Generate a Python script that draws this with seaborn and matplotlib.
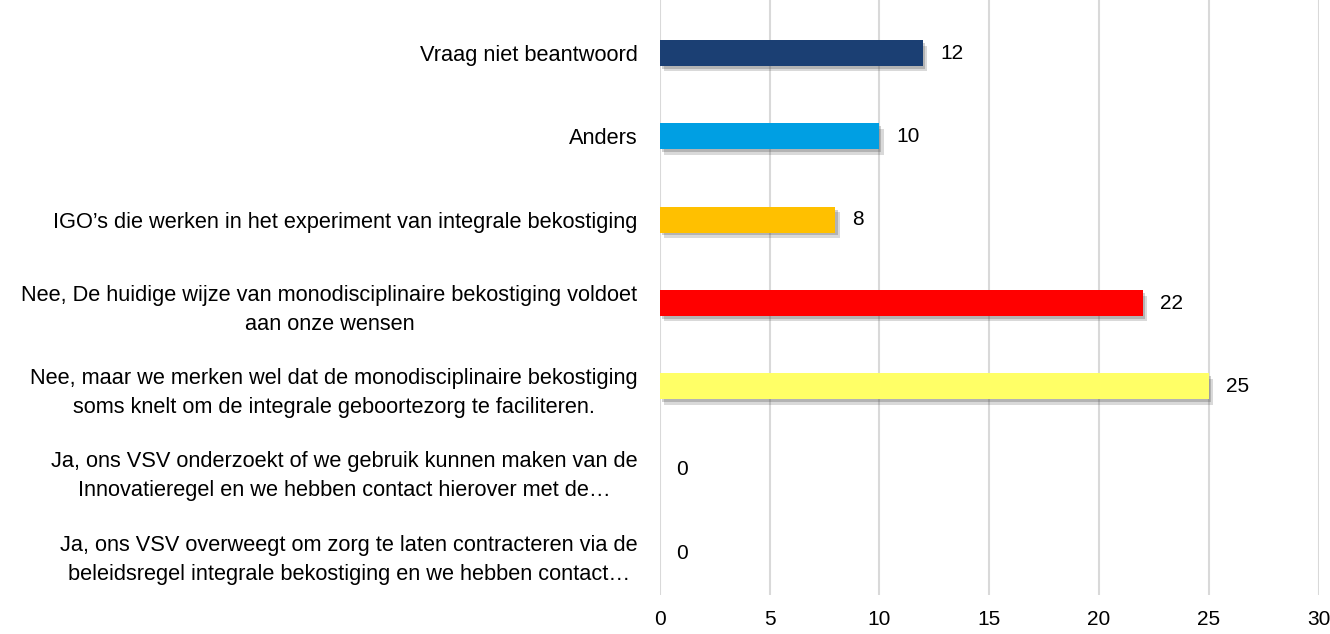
import numpy as np
import pandas as pd
import seaborn as sns
import matplotlib.pyplot as plt
import matplotlib.patheffects as pe

# answers, top to bottom as shown in the chart
categories = [
    "Vraag niet beantwoord",
    "Anders",
    "IGO\u2019s die werken in het experiment van integrale bekostiging",
    "Nee, De huidige wijze van monodisciplinaire bekostiging voldoet\naan onze wensen",
    "Nee, maar we merken wel dat de monodisciplinaire bekostiging\nsoms knelt om de integrale geboortezorg te faciliteren.",
    "Ja, ons VSV onderzoekt of we gebruik kunnen maken van de\nInnovatieregel en we hebben contact hierover met de\u2026",
    "Ja, ons VSV overweegt om zorg te laten contracteren via de\nbeleidsregel integrale bekostiging en we hebben contact\u2026",
]
counts = [12, 10, 8, 22, 25, 0, 0]
bar_colors = ["#1B3F73", "#009FE3", "#FFC000", "#FF0000", "#FFFF66", "#A5A5A5", "#A5A5A5"]
xticks = [0, 5, 10, 15, 20, 25, 30]

df = pd.DataFrame({"antwoord": categories, "aantal": counts})

sns.set_style("white")
plt.rcParams['font.family'] = ['Liberation Sans', 'DejaVu Sans']

fig = plt.figure(figsize=(13.3, 6.34), dpi=100)
ax = fig.add_axes([0.496, 0.0615, 0.4955, 0.9385])

sns.barplot(data=df, y="antwoord", x="aantal", hue="antwoord",
            palette=bar_colors, saturation=1, width=0.31, linewidth=0,
            legend=False, ax=ax, zorder=3)

# soft drop shadow like the office chart
for bar in ax.patches:
    bar.set_path_effects([pe.SimplePatchShadow(offset=(3, -4), alpha=0.2, shadow_rgbFace="#444444"),
                          pe.SimplePatchShadow(offset=(1.5, -2), alpha=0.25, shadow_rgbFace="#444444"),
                          pe.Normal()])

for cont in ax.containers:
    ax.bar_label(cont, padding=12, fontsize=15, color="#000000")

ax.set_xlim(0, 30)
ax.set_ylim(6.504, -0.636)
ax.set_xticks(xticks)
ax.xaxis.grid(True, color="#D9D9D9", linewidth=1.5, zorder=0)
ax.yaxis.grid(False)
sns.despine(ax=ax, left=True, bottom=True)
ax.tick_params(axis="x", length=0, pad=11, labelsize=15, labelcolor="#000000")
ax.tick_params(axis="y", length=0, pad=16, labelsize=15.7, labelcolor="#000000")
for lab in ax.get_yticklabels():
    lab.set_multialignment("center")
    lab.set_linespacing(1.5)
ax.set_xlabel("")
ax.set_ylabel("")

fig.savefig("out.png", dpi=100)
